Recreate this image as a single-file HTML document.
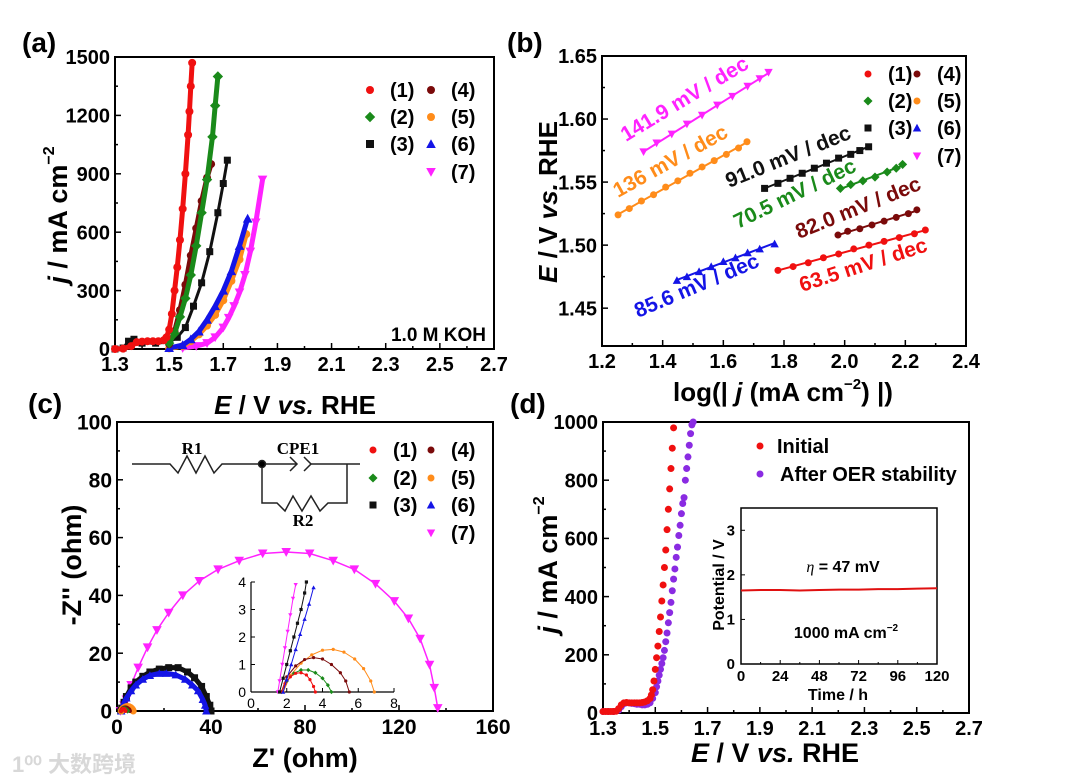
<!DOCTYPE html>
<html><head><meta charset="utf-8"><style>
html,body{margin:0;padding:0;background:#fff;}
svg{display:block;font-family:"Liberation Sans",Arial,sans-serif;font-weight:bold;}
</style></head><body>
<svg id="fig" width="1080" height="781" viewBox="0 0 1080 781" xmlns="http://www.w3.org/2000/svg"></svg>
<script>
// ---------- Panel (a) data ----------
const aE1=[1.30,1.33,1.36,1.38,1.40,1.42,1.44,1.46,1.48,1.49,1.50,1.51,1.52,1.53,1.54,1.55,1.56,1.57,1.575,1.58,1.585];
const aJ1=[0,2,15,35,38,40,40,40,45,60,100,180,300,420,560,720,900,1100,1220,1350,1470];
const aE2=[1.50,1.52,1.54,1.56,1.58,1.60,1.62,1.64,1.66,1.67,1.68];
const aJ2=[30,80,165,260,380,530,700,870,1090,1250,1400];
const aE3=[1.30,1.33,1.35,1.37,1.40,1.45,1.50,1.53,1.56,1.59,1.62,1.65,1.68,1.70,1.715];
const aJ3=[0,5,40,50,30,30,35,60,110,220,340,500,700,850,970];
const aE4=[1.50,1.52,1.54,1.56,1.58,1.60,1.62,1.64,1.655];
const aJ4=[25,90,200,330,480,620,760,880,950];
const aE5=[1.50,1.55,1.58,1.61,1.64,1.67,1.70,1.73,1.76,1.785];
const aJ5=[3,15,40,75,120,175,250,350,460,590];
const aE6=[1.50,1.55,1.58,1.61,1.64,1.67,1.70,1.73,1.76,1.79];
const aJ6=[5,20,50,90,150,220,300,400,530,670];
const aE7=[1.55,1.60,1.64,1.67,1.70,1.72,1.74,1.76,1.78,1.80,1.82,1.845];
const aJ7=[5,15,30,60,110,160,220,290,380,500,650,870];
const aXTicks=[1.3,1.5,1.7,1.9,2.1,2.3,2.5,2.7];
const aYTicks=[0,300,600,900,1200,1500];
// ---------- Panel (b) data ----------
const bX1=[1.78,1.83,1.88,1.93,1.98,2.03,2.08,2.13,2.18,2.23,2.266];
const bE1=[1.480,1.483,1.486,1.490,1.493,1.497,1.500,1.503,1.506,1.509,1.512];
const bX2=[1.986,2.02,2.06,2.10,2.14,2.17,2.191];
const bE2=[1.545,1.548,1.551,1.554,1.558,1.561,1.564];
const bX3=[1.736,1.78,1.82,1.86,1.90,1.94,1.98,2.02,2.05,2.079];
const bE3=[1.545,1.549,1.553,1.557,1.561,1.565,1.569,1.572,1.575,1.578];
const bX4=[1.978,2.01,2.05,2.09,2.13,2.17,2.21,2.238];
const bE4=[1.508,1.511,1.513,1.516,1.519,1.522,1.525,1.528];
const bX5=[1.253,1.29,1.33,1.37,1.41,1.45,1.49,1.53,1.57,1.61,1.65,1.678];
const bE5=[1.524,1.529,1.535,1.540,1.546,1.551,1.557,1.562,1.567,1.572,1.577,1.582];
const bX6=[1.447,1.48,1.52,1.56,1.60,1.64,1.68,1.72,1.769];
const bE6=[1.472,1.475,1.479,1.483,1.487,1.490,1.494,1.497,1.501];
const bX7=[1.337,1.38,1.43,1.48,1.53,1.58,1.63,1.68,1.72,1.749];
const bE7=[1.574,1.581,1.588,1.596,1.603,1.611,1.618,1.626,1.632,1.637];
const bXTicks=[1.2,1.4,1.6,1.8,2.0,2.2,2.4];
const bYTicks=[1.45,1.50,1.55,1.60,1.65];
const bSlopes=["63.5 mV / dec","70.5 mV / dec","91.0 mV / dec","82.0 mV / dec","136 mV / dec","85.6 mV / dec","141.9 mV / dec"];
// ---------- Panel (c) data ----------
const cR1=[1.7,1.9,2.2,2.5,2.8,3.1,3.3,3.5,3.6];
const cI1=[0,0.3,0.55,0.68,0.7,0.62,0.45,0.2,0];
const cR2=[1.7,2.0,2.4,2.8,3.2,3.6,4.0,4.3,4.5];
const cI2=[0,0.4,0.68,0.8,0.8,0.7,0.5,0.25,0];
const cR3=[1.6,2,3,4,6,8,11,14,18,22,26,30,33,36,38,39.5,40];
const cI3=[0,1,3,5,8,10,12,13.5,14.5,15,15,13.5,11.5,8.5,5,2,0];
const cR3i=[1.6,1.8,2.0,2.2,2.4,2.6,2.8,3.0,3.1];
const cI3i=[0,0.5,1.0,1.5,2.0,2.5,3.0,3.6,4.0];
const cR4=[1.7,2.0,2.5,3.0,3.5,4.0,4.5,5.0,5.3,5.5];
const cI4=[0,0.55,0.95,1.18,1.25,1.2,1.0,0.7,0.4,0];
const cR5=[1.8,2.2,2.8,3.4,4.0,4.6,5.2,5.8,6.3,6.7,6.9];
const cI5=[0,0.6,1.05,1.35,1.52,1.55,1.45,1.2,0.85,0.4,0];
const cR6=[1.8,2.5,3,4,6,8,11,14,18,21,25,29,32,34.5,36.5,37.5,38];
const cI6=[0,1.5,3,4.5,7,9,11,12.3,13,13,12.5,11,9,7,4,2,0];
const cR6i=[1.8,2.0,2.25,2.5,2.75,3.0,3.25,3.5];
const cI6i=[0,0.45,1.0,1.55,2.1,2.65,3.2,3.8];
const cR7=[1.5,3,4,6,9,13,17,22,28,35,43,52,62,72,82,92,101,110,118,124,129,133,135,136.5];
const cI7=[0,2,4,9,15,22,28,34,40,45,49,52,54.5,55,54.5,52,49,44,38,32,25,16,8,1];
const cR7i=[1.5,1.6,1.75,1.9,2.05,2.2,2.35,2.5];
const cI7i=[0,0.4,1.0,1.6,2.2,2.8,3.4,3.9];
const cXTicks=[0,40,80,120,160];
const cYTicks=[0,20,40,60,80,100];
const ciXTicks=[0,2,4,6,8];
const ciYTicks=[0,1,2,3,4];
// ---------- Panel (d) data ----------
const dE1=[1.30,1.31,1.32,1.33,1.34,1.35,1.36,1.37,1.38,1.39,1.40,1.41,1.42,1.43,1.44,1.45,1.46,1.47,1.48,1.485,1.49,1.495,1.50,1.505,1.51,1.515,1.52,1.525,1.53,1.535,1.54,1.545,1.55,1.555,1.56,1.565,1.57];
const dJ1=[5,5,5,5,5,6,15,28,35,36,35,35,35,35,35,36,38,42,50,62,80,110,150,190,230,280,330,385,440,500,560,630,700,770,840,910,980];
const dE2=[1.30,1.32,1.34,1.36,1.37,1.38,1.39,1.40,1.41,1.42,1.43,1.44,1.45,1.46,1.47,1.48,1.49,1.50,1.505,1.51,1.515,1.52,1.525,1.53,1.535,1.54,1.545,1.55,1.555,1.56,1.565,1.57,1.575,1.58,1.585,1.59,1.595,1.60,1.605,1.61,1.615,1.62,1.625,1.63,1.635,1.64,1.645];
const dJ2=[5,5,5,10,22,32,35,35,33,32,30,30,28,28,30,35,50,70,90,110,130,150,170,190,215,245,275,310,345,380,420,460,495,535,570,610,645,685,720,740,800,840,880,920,960,990,1000];
const dT=[0,12,24,36,48,60,72,84,96,108,120];
const dV=[1.65,1.66,1.66,1.65,1.66,1.67,1.67,1.68,1.68,1.69,1.70];
const dXTicks=[1.3,1.5,1.7,1.9,2.1,2.3,2.5,2.7];
const dYTicks=[0,200,400,600,800,1000];
const diXTicks=[0,24,48,72,96,120];
const diYTicks=[0,1,2,3];

const NS="http://www.w3.org/2000/svg";
const svg=document.getElementById('fig');
function mk(tag,attrs,parent){const e=document.createElementNS(NS,tag);for(const k in attrs)e.setAttribute(k,attrs[k]);(parent||svg).appendChild(e);return e;}
function txt(s,x,y,size,anchor,extra){const e=mk('text',Object.assign({x:x,y:y,'font-size':size,'text-anchor':anchor||'middle'},extra||{}));e.textContent=s;return e;}

const COL={r:'#f01010',g:'#1a8a1a',k:'#111',br:'#7a0a0a',o:'#ff8c1a',b:'#1414e6',m:'#ff22ff',p:'#8a2be2'};

function marker(shape,x,y,s,c){
  let e;
  if(shape==='c'){e=mk('circle',{cx:x,cy:y,r:s,fill:c});}
  else if(shape==='s'){e=mk('rect',{x:x-s,y:y-s,width:2*s,height:2*s,fill:c});}
  else if(shape==='d'){e=mk('polygon',{points:`${x},${y-s*1.3} ${x+s*1.3},${y} ${x},${y+s*1.3} ${x-s*1.3},${y}`,fill:c});}
  else if(shape==='u'){e=mk('polygon',{points:`${x},${y-s*1.2} ${x+s*1.2},${y+s} ${x-s*1.2},${y+s}`,fill:c});}
  else {e=mk('polygon',{points:`${x},${y+s*1.2} ${x+s*1.2},${y-s} ${x-s*1.2},${y-s}`,fill:c});}
  return e;
}

function frame(name,L,T,R,B,xt,yt,sx,sy,fmtX,fmtY,fs,ticklen){
  const g=mk('g',{});
  
  
  const box=mk('rect',{x:L,y:T,width:R-L,height:B-T,fill:'none',stroke:'#000','stroke-width':2},g);
  
  
  const tl=ticklen||6;
  xt.forEach(v=>{
    const x=sx(v);
    mk('line',{x1:x,y1:B,x2:x,y2:B-tl,stroke:'#000','stroke-width':1.5},g);
    const t=txt(fmtX(v),x,B+fs+2,fs,'middle');
    
    
  });
  for(let i=0;i<xt.length-1;i++){const x=(sx(xt[i])+sx(xt[i+1]))/2;mk('line',{x1:x,y1:B,x2:x,y2:B-tl/2,stroke:'#000','stroke-width':1.5},g);}
  yt.forEach(v=>{
    const y=sy(v);
    mk('line',{x1:L,y1:y,x2:L+tl,y2:y,stroke:'#000','stroke-width':1.5},g);
    const t=txt(fmtY(v),L-5,y+fs*0.36,fs,'end');
    
    
  });
  for(let i=0;i<yt.length-1;i++){const y=(sy(yt[i])+sy(yt[i+1]))/2;mk('line',{x1:L,y1:y,x2:L+tl/2,y2:y,stroke:'#000','stroke-width':1.5},g);}
}

function series(name,xs,ys,sx,sy,shape,size,color,lineW){
  const pts=xs.map((v,i)=>sx(v)+','+sy(ys[i])).join(' ');
  if(lineW){const l=mk('polyline',{points:pts,fill:'none',stroke:color,'stroke-width':lineW,'stroke-linejoin':'round'});
    
    }
  xs.forEach((v,i)=>{const m=marker(shape,sx(v),sy(ys[i]),size,color);
    
    });
}

function legendEntry(name,shape,x,y,color,label,s){
  const m=marker(shape,x,y,s||4,color);
  
  
  const t=txt(label,x+20,y+7,20,'start');
  
  
}

// ===== Panel a =====
const xA=v=>115+(v-1.3)/1.4*379, yA=v=>349-v/1500*292;
frame('panel-a',115,57,494,349,aXTicks,aYTicks,xA,yA,v=>v.toFixed(1),v=>String(v),20);
series('a-series-7',aE7,aJ7,xA,yA,'v',4,COL.m,5);
series('a-series-5',aE5,aJ5,xA,yA,'c',4,COL.o,5);
series('a-series-6',aE6,aJ6,xA,yA,'u',4,COL.b,5);
series('a-series-3',aE3,aJ3,xA,yA,'s',3.5,COL.k,3);
series('a-series-4',aE4,aJ4,xA,yA,'c',4,COL.br,5);
series('a-series-2',aE2,aJ2,xA,yA,'d',4,COL.g,5);
series('a-series-1',aE1,aJ1,xA,yA,'c',4,COL.r,5);
[['1','c',COL.r,370,90],['2','d',COL.g,370,117],['3','s',COL.k,370,144],['4','c',COL.br,431,90],['5','c',COL.o,431,117],['6','u',COL.b,431,144],['7','v',COL.m,431,172]].forEach(e=>legendEntry('a-legend-'+e[0],e[1],e[3],e[4],e[2],'('+e[0]+')'));
let t;
t=txt('1.0 M KOH',486,341,19,'end');


t=txt('(a)',22,52,28,'start');


t=mk('text',{x:0,y:0,'font-size':27,'text-anchor':'middle',transform:'translate(67,215) rotate(-90)'});
t.innerHTML='<tspan font-style="italic">j</tspan> / mA cm<tspan dy="-13" font-size="16">−2</tspan>';


t=mk('text',{x:295,y:414,'font-size':26,'text-anchor':'middle'});
t.innerHTML='<tspan font-style="italic">E</tspan> / V <tspan font-style="italic">vs.</tspan> RHE';



// ===== Panel b =====
const xB=v=>602+(v-1.2)/1.2*364, yB=v=>346-(v-1.42)/0.23*290;
frame('panel-b',602,56,966,346,bXTicks,bYTicks,xB,yB,v=>v.toFixed(1),v=>v.toFixed(2),20);
function fit(xs,ys){const n=xs.length;let mx=0,my=0;xs.forEach((v,i)=>{mx+=v;my+=ys[i];});mx/=n;my/=n;let a=0,b=0;xs.forEach((v,i)=>{a+=(v-mx)*(ys[i]-my);b+=(v-mx)*(v-mx);});const k=a/b;return [k,my-k*mx];}
const bSets=[[bX1,bE1,'c',COL.r],[bX2,bE2,'d',COL.g],[bX3,bE3,'s',COL.k],[bX4,bE4,'c',COL.br],[bX5,bE5,'c',COL.o],[bX6,bE6,'u',COL.b],[bX7,bE7,'v',COL.m]];
bSets.forEach((s,i)=>{
  const f=fit(s[0],s[1]);const x0=s[0][0],x1=s[0][s[0].length-1];
  const l=mk('line',{x1:xB(x0),y1:yB(f[0]*x0+f[1]),x2:xB(x1),y2:yB(f[0]*x1+f[1]),stroke:s[3],'stroke-width':2});
  
  
  series('b-series-'+(i+1),s[0],s[1],xB,yB,s[2],3.5,s[3],0);
});
const bLab=[[802,292,-18,COL.r],[738,229,-26,COL.g],[729,188,-22,COL.k],[799,239,-22,COL.br],[618,198,-29,COL.o],[638,318,-23,COL.b],[626,142,-31,COL.m]];
bLab.forEach((p,i)=>{const e=txt(bSlopes[i],p[0],p[1],21,'start',{fill:p[3],transform:`rotate(${p[2]} ${p[0]} ${p[1]})`});
  
  });
[['1','c',COL.r,868,74],['2','d',COL.g,868,101],['3','s',COL.k,868,128],['4','c',COL.br,917,74],['5','c',COL.o,917,101],['6','u',COL.b,917,128],['7','v',COL.m,917,156]].forEach(e=>legendEntry('b-legend-'+e[0],e[1],e[3],e[4],e[2],'('+e[0]+')',3.5));
t=txt('(b)',507,52,28,'start');


t=mk('text',{x:0,y:0,'font-size':26,'text-anchor':'middle',transform:'translate(557,202) rotate(-90)'});
t.innerHTML='<tspan font-style="italic">E</tspan> / V <tspan font-style="italic">vs.</tspan> RHE';


t=mk('text',{x:783,y:401,'font-size':26,'text-anchor':'middle'});
t.innerHTML='log(| <tspan font-style="italic">j</tspan> (mA cm<tspan dy="-12" font-size="15">−2</tspan><tspan dy="12">) |)</tspan>';



// ===== Panel c =====
const xC=v=>117+v/160*376, yC=v=>711-v/100*289;
frame('panel-c',117,422,493,711,cXTicks,cYTicks,xC,yC,v=>String(v),v=>String(v),21);
series('c-series-7',cR7,cI7,xC,yC,'v',4,COL.m,1.5);
series('c-series-3',cR3,cI3,xC,yC,'s',3.5,COL.k,5);
series('c-series-6',cR6,cI6,xC,yC,'u',3.5,COL.b,5);
series('c-series-5',cR5,cI5,xC,yC,'c',3.5,COL.o,3);
series('c-series-4',cR4,cI4,xC,yC,'c',2,COL.br,1);
series('c-series-2',cR2,cI2,xC,yC,'d',2,COL.g,1);
series('c-series-1',cR1,cI1,xC,yC,'c',2,COL.r,1);
const xCi=v=>251+v/8*143, yCi=v=>692-v/4*110;
(function(){
  const g=mk('g',{});
  
  
  mk('line',{x1:251,y1:582,x2:251,y2:692,stroke:'#000','stroke-width':1.2},g);
  mk('line',{x1:251,y1:692,x2:394,y2:692,stroke:'#000','stroke-width':1.2},g);
  ciXTicks.forEach(v=>{mk('line',{x1:xCi(v),y1:692,x2:xCi(v),y2:688,stroke:'#000'},g);const e=txt(String(v),xCi(v),708,14,'middle',{'font-weight':'normal'});
    
    });
  ciYTicks.forEach(v=>{mk('line',{x1:251,y1:yCi(v),x2:255,y2:yCi(v),stroke:'#000'},g);const e=txt(String(v),246,yCi(v)+5,14,'end',{'font-weight':'normal'});
    
    });
})();
series('ci-series-5',cR5,cI5,xCi,yCi,'c',1.6,COL.o,1);
series('ci-series-4',cR4,cI4,xCi,yCi,'c',1.6,COL.br,1);
series('ci-series-2',cR2,cI2,xCi,yCi,'d',1.6,COL.g,1);
series('ci-series-1',cR1,cI1,xCi,yCi,'c',1.6,COL.r,1);
series('ci-series-7',cR7i,cI7i,xCi,yCi,'v',1.8,COL.m,1);
series('ci-series-3',cR3i,cI3i,xCi,yCi,'s',1.6,COL.k,1);
series('ci-series-6',cR6i,cI6i,xCi,yCi,'u',1.8,COL.b,1);
(function(){
  const g=mk('g',{fill:'none',stroke:'#222','stroke-width':1.5});
  
  
  mk('polyline',{points:'132,464 170,464 178,473 187,456 196,473 205,456 214,473 222,464 297,464'},g);
  mk('polyline',{points:'290,457 297,464 290,471'},g);
  mk('polyline',{points:'304,457 311,464 304,471'},g);
  mk('polyline',{points:'311,464 360,464'},g);
  mk('polyline',{points:'347,464 347,503 328,503 320,511 311,496 302,511 293,496 285,511 277,503 262,503 262,464'},g);
  mk('circle',{cx:262,cy:464,r:3.5,fill:'#000'},g);
  const s={'font-family':'"Liberation Serif",serif','font-size':17};
  let e=txt('R1',192,454,17,'middle',s);
  
  
  e=txt('CPE1',298,454,17,'middle',s);
  
  
  e=txt('R2',303,526,17,'middle',s);
  
  
})();
[['1','c',COL.r,373,450],['2','d',COL.g,373,478],['3','s',COL.k,373,505],['4','c',COL.br,431,450],['5','c',COL.o,431,478],['6','u',COL.b,431,505],['7','v',COL.m,431,533]].forEach(e=>legendEntry('c-legend-'+e[0],e[1],e[3],e[4],e[2],'('+e[0]+')',3.5));
t=txt('(c)',28,413,28,'start');


t=txt("Z' (ohm)",305,767,27,'middle');


t=txt("-Z'' (ohm)",0,0,27,'middle',{transform:'translate(81,565) rotate(-90)'});



// ===== Panel d =====
const xD=v=>603+(v-1.3)/1.4*366, yD=v=>713-v/1000*291;
frame('panel-d',603,422,969,713,dXTicks,dYTicks,xD,yD,v=>v.toFixed(1),v=>String(v),20);
series('d-after-stability',dE2,dJ2,xD,yD,'c',3.5,COL.p,0);
series('d-initial',dE1,dJ1,xD,yD,'c',3.5,COL.r,0);
legendEntry('d-legend-initial','c',760,446,COL.r,'',3.5);
t=txt('Initial',777,453,20,'start');


legendEntry('d-legend-after','c',760,474,COL.p,'',3.5);
t=txt('After OER stability',780,481,20,'start');


const xDi=v=>741+v/120*196, yDi=v=>664-v/3.5*156;
(function(){
  const g=mk('g',{});
  
  
  mk('rect',{x:741,y:508,width:196,height:156,fill:'#fff',stroke:'#000','stroke-width':1.5},g);
  diXTicks.forEach((v,i)=>{mk('line',{x1:xDi(v),y1:664,x2:xDi(v),y2:660,stroke:'#000'},g);
    if(i<diXTicks.length-1){const xm=(xDi(v)+xDi(diXTicks[i+1]))/2;mk('line',{x1:xm,y1:664,x2:xm,y2:662,stroke:'#000'},g);}
    const e=txt(String(v),xDi(v),681,15,'middle');
    
    });
  diYTicks.forEach(v=>{mk('line',{x1:741,y1:yDi(v),x2:745,y2:yDi(v),stroke:'#000'},g);const e=txt(String(v),735,yDi(v)+5,15,'end');
    
    });
})();
(function(){const pts=dT.map((v,i)=>xDi(v)+','+yDi(dV[i])).join(' ');
  const l=mk('polyline',{points:pts,fill:'none',stroke:'#e01010','stroke-width':2});
  
  })();
t=mk('text',{x:843,y:572,'font-size':16,'text-anchor':'middle'});
t.innerHTML='<tspan font-style="italic" font-family="Liberation Serif,serif" font-weight="normal">η</tspan> = 47 mV';


t=mk('text',{x:846,y:638,'font-size':16,'text-anchor':'middle'});
t.innerHTML='1000 mA cm<tspan dy="-7" font-size="10">−2</tspan>';


t=txt('Time / h',838,700,16,'middle');


t=txt('Potential / V',0,0,16,'middle',{transform:'translate(724,585) rotate(-90)'});


t=txt('(d)',510,413,28,'start');


t=mk('text',{x:0,y:0,'font-size':27,'text-anchor':'middle',transform:'translate(557,565) rotate(-90)'});
t.innerHTML='<tspan font-style="italic">j</tspan> / mA cm<tspan dy="-13" font-size="16">−2</tspan>';


t=mk('text',{x:775,y:762,'font-size':27,'text-anchor':'middle'});
t.innerHTML='<tspan font-style="italic">E</tspan> / V <tspan font-style="italic">vs.</tspan> RHE';


t=mk('text',{x:12,y:772,'font-size':22,fill:'#d8d8d8','font-family':'"Liberation Sans","Noto Sans CJK SC",sans-serif'});
t.textContent='1⁰⁰ 大数跨境';


</script>
</body></html>
